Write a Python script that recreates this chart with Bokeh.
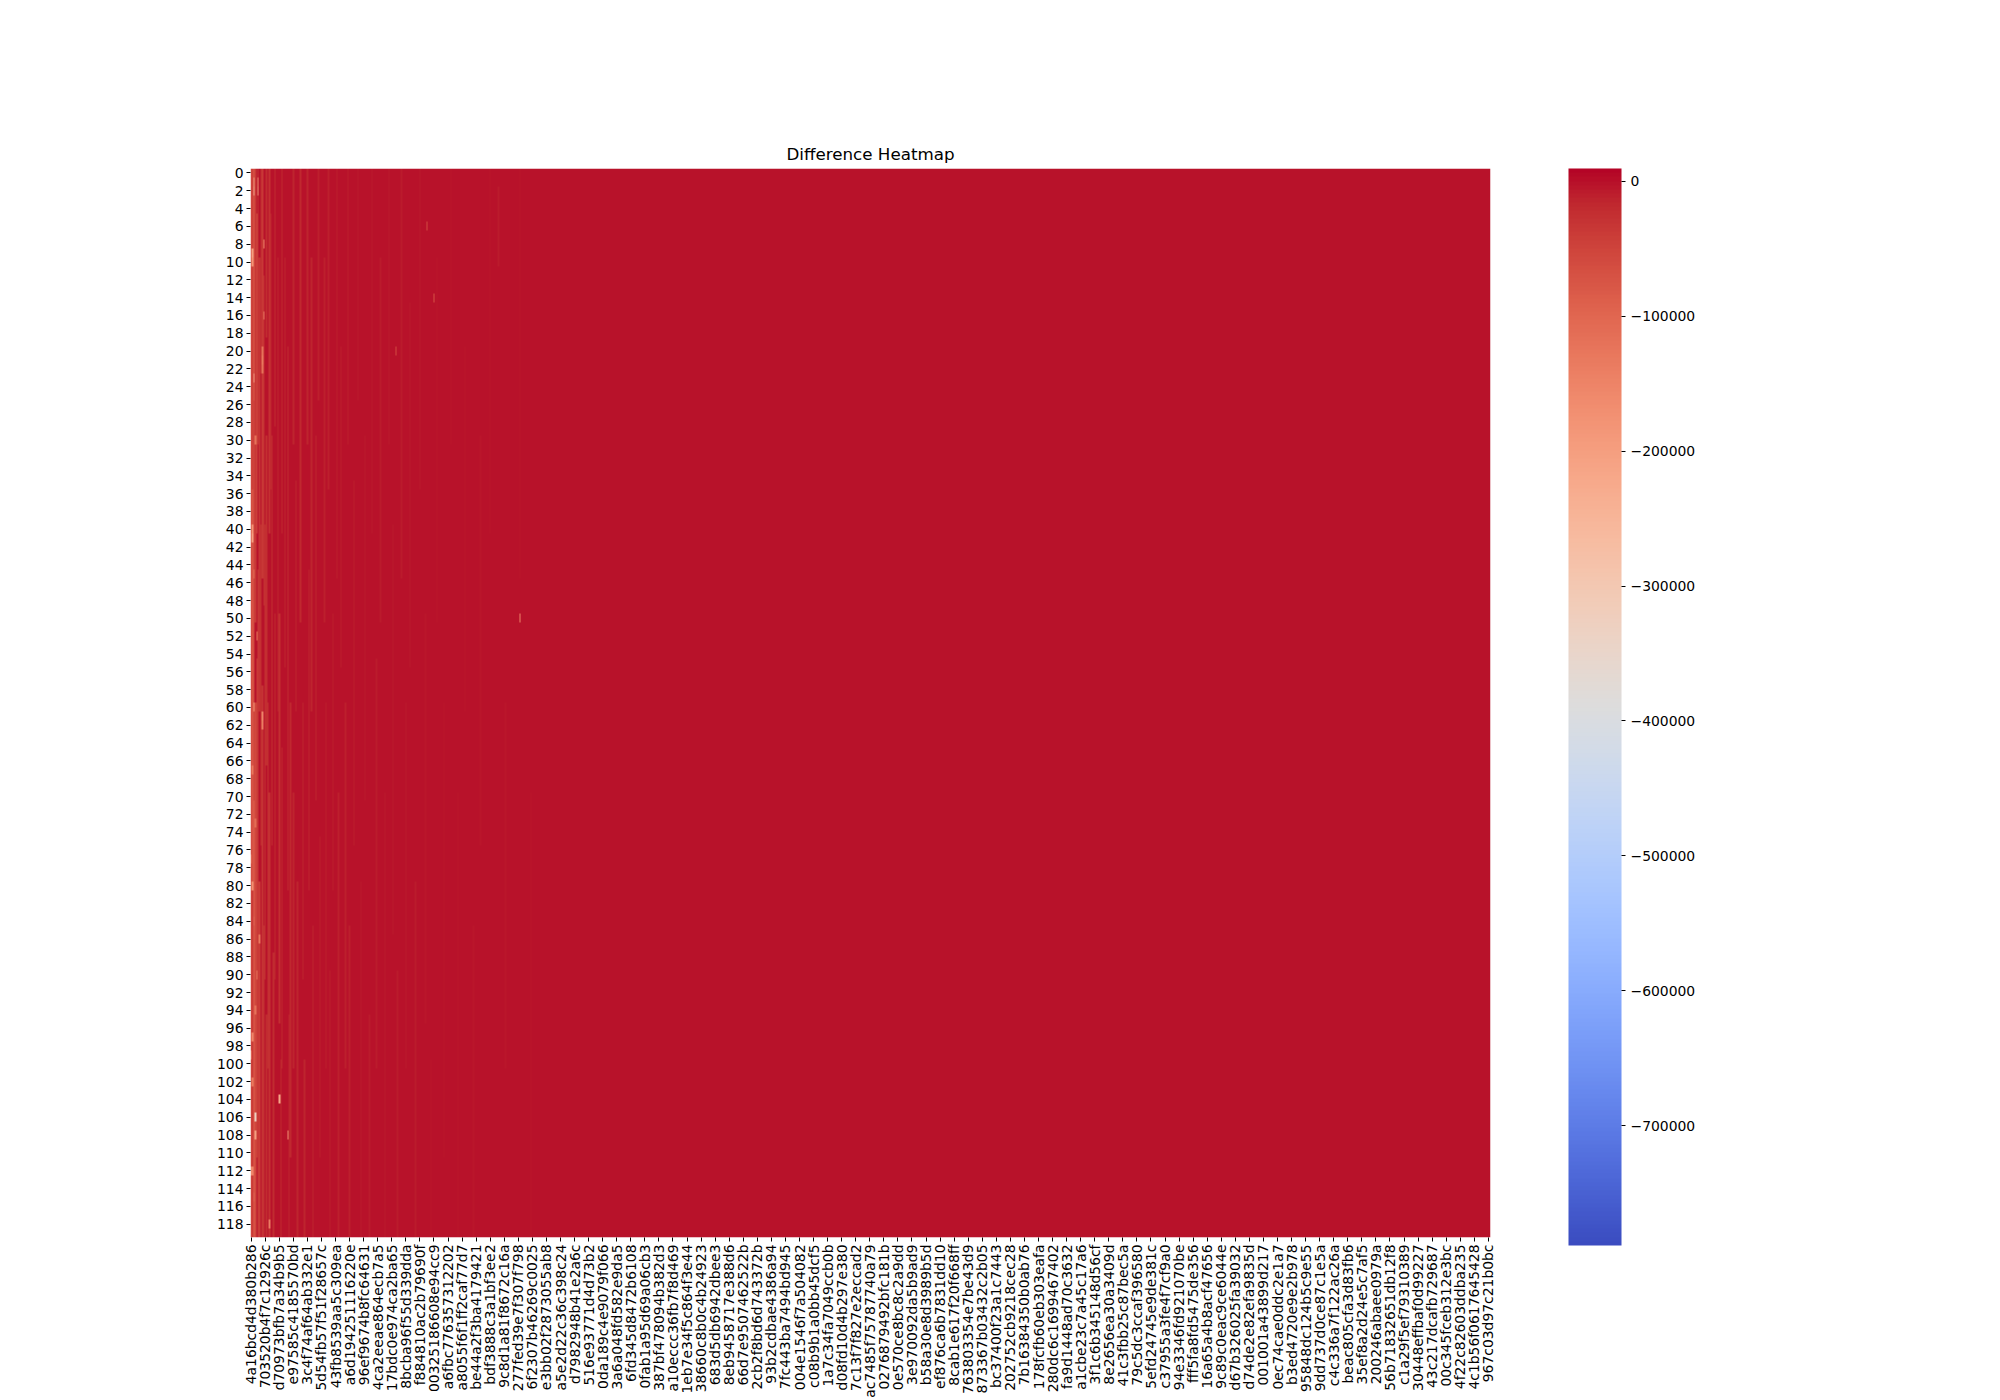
import numpy as np
from bokeh.plotting import figure
from bokeh.models import LinearColorMapper, ColorBar, FixedTicker, Range1d, AllLabels
from bokeh.embed import file_html
from bokeh.resources import INLINE

# ---------------- data ----------------
n_rows = 120
n_cols = 882
x_tick_step = 10          # every 10th column carries a visible label
y_tick_step = 2

x_tick_labels = [
    "4a16bcd4d380b286", "703520b4f7c12926c", "d70973bfb7a34b9b5", "e97585c4185570bd",
    "3c4f74af64ab332e1", "5d54fb57f51f28657c", "43fb8539aa5c309ea", "a6d194251116220e",
    "96ef9674b8fc64631", "4ca2eeae864ecb7a5", "17bdc0e974ca2ba65", "8bcba96f55d339dda",
    "f884810ac2b79690f", "00325186608e94cc9", "a6fbc776357312202", "a8055f6f1ff2caf77d7",
    "be44a2f3ba4179421", "bdf3888c3a1bf3ee2", "9c8d1a81f8672c16a", "277fed39e7f307f798",
    "6f2307b46269c0025", "e3bb02f2873055ab8", "a5e2d22c36c398c24", "d7982948b41e2a6c",
    "516e93771d4d73b2", "0da189c4e9079f066", "3a6a048fd582e9da5", "6fd345d8472b6108",
    "0fab1a95d69a06cb3", "387bf478094b382d3", "a10eccc36fb7f8d469", "1eb7e34f5c864f3e44",
    "38660c8b0c4b24923", "683d5db6942dbee3", "8eb9458717e388d6", "66d7e9507462522b",
    "2cb2f8bd6d743372b", "93b2cdbae4386a94", "7fc443ba7494bd945", "004e1546f7a504082",
    "c08b9b1a0bb45dcf5", "1a7c34fa7049ccb0b", "d08fd10d4b297e380", "7c13f7f827e2eccad2",
    "ac7485f75787740a79", "0276879492bfc181b", "0e570ce8bc8c2a9dd", "3e970092da5b9ad9",
    "b58a30e8d3989b5d", "ef876ca6b7831dd10", "8cab1e617f20f668ff", "763803354e7be43d9",
    "873367b03432c2b05", "bc37400f23a1c7443", "202752cb9218cec28", "7b16384350b0ab76",
    "178fcfb60eb303eafa", "280dc6c1699467402", "fa9d1448ad70c3632", "a1cbe23c7a45c17a6",
    "3f1c6b345148d56cf", "8e2656ea30a3409d", "41c3fbb25c87bec5a", "79c5dc3ccaf396580",
    "5efd24745e9de381c", "c37955a3fe4f7cf9a0", "94e3346fd921070be", "fff5fa8fd5475de356",
    "16a65a4b8acf47656", "9c89c0eac9ce6044e", "d67b326025fa39032", "d74de2e82efa9835d",
    "001001a43899d217", "0ec74cae0ddc2e1a7", "b3ed4720e9e2b978", "95848dc124b5c9e55",
    "9dd737d0ce87c1e5a", "c4c336a7f122ac26a", "beac805cfa3d83fb6", "35ef8a2d24e5c7af5",
    "200246abaee0979a", "56b71832651db12f8", "c1a29f5ef79310389", "30448effbaf0d99227",
    "43c217dcafb729687", "00c345fceb312e3bc", "4f22c82603ddba235", "4c1b56f0617645428",
    "967c03d97c21b0bc",
]

base_value = 0
vmin = -788700
vmax = 9400
cbar_ticks = [0, -100000, -200000, -300000, -400000, -500000, -600000, -700000]

# lighter vertical streak segments: (column, first row, last row, value)
col_streaks = [
    (0, 0, 119, -60000), (1, 0, 35, -45000), (1, 36, 80, -70000), (1, 81, 119, -40000),
    (2, 0, 25, -80000), (2, 26, 70, -50000), (2, 71, 119, -85000), (3, 0, 50, -35000),
    (3, 60, 119, -55000), (4, 5, 40, -50000), (4, 55, 110, -40000), (5, 0, 30, -30000),
    (5, 45, 119, -35000), (6, 10, 60, -30000), (6, 80, 119, -40000), (7, 0, 22, -20000),
    (7, 40, 75, -22000), (8, 0, 45, -35000), (8, 58, 119, -30000), (9, 12, 48, -25000),
    (9, 85, 119, -28000), (10, 40, 90, -28000), (11, 0, 18, -20000), (11, 30, 66, -22000),
    (11, 95, 119, -20000), (12, 60, 100, -25000), (13, 0, 40, -28000), (13, 70, 119, -25000),
    (14, 5, 35, -15000), (15, 30, 75, -22000), (16, 88, 119, -20000), (17, 0, 28, -20000),
    (17, 50, 90, -18000), (19, 10, 60, -15000), (20, 50, 95, -22000), (21, 100, 119, -18000),
    (22, 0, 40, -18000), (22, 65, 100, -16000), (24, 10, 55, -15000), (26, 20, 80, -20000),
    (27, 95, 119, -15000), (28, 60, 110, -16000), (30, 0, 30, -15000), (30, 70, 100, -14000),
    (32, 35, 60, -14000), (33, 80, 119, -15000), (35, 0, 50, -16000), (37, 60, 90, -14000),
    (38, 100, 119, -15000), (40, 0, 30, -14000), (41, 45, 80, -13000), (43, 10, 60, -13000),
    (44, 85, 119, -14000), (46, 30, 70, -13000), (48, 0, 25, -12000), (49, 75, 110, -12000),
    (52, 10, 50, -12000), (53, 60, 100, -11000), (55, 0, 35, -12000), (56, 90, 119, -12000),
    (58, 50, 80, -11000), (61, 0, 45, -11000), (62, 70, 119, -11000), (64, 20, 55, -10000),
    (67, 60, 100, -10000), (69, 0, 30, -10000), (70, 85, 119, -10000), (73, 35, 75, -10000),
    (76, 0, 25, -9000), (78, 80, 119, -9000), (81, 30, 70, -9000), (84, 95, 119, -9000),
    (86, 0, 40, -9000), (89, 55, 100, -8000), (92, 10, 50, -8000), (95, 70, 119, -8000),
    (98, 0, 30, -8000), (101, 40, 85, -8000), (104, 90, 119, -8000), (107, 0, 45, -7000),
    (110, 60, 100, -7000), (113, 15, 55, -7000), (117, 80, 119, -7000), (120, 0, 35, -7000),
    (124, 50, 95, -6000), (128, 100, 119, -6000), (132, 10, 50, -6000), (137, 60, 110, -6000),
    (142, 0, 30, -6000), (147, 70, 119, -5000), (152, 20, 60, -5000), (158, 85, 119, -5000),
    (163, 30, 75, -5000), (170, 0, 40, -5000), (176, 2, 10, -9000), (181, 60, 100, -4000),
    (191, 0, 45, -4000), (199, 70, 119, -4000), (210, 20, 60, -3000), (225, 80, 119, -3000),
]

# isolated light cells: (row, column, value)
spots = [
    (1, 2, -200000), (2, 2, -230000), (1, 5, -160000), (2, 5, -180000), (8, 9, -150000),
    (9, 1, -200000), (10, 1, -180000), (6, 125, -60000), (14, 130, -70000), (16, 9, -140000),
    (20, 8, -120000), (21, 8, -130000), (22, 8, -120000), (23, 2, -200000), (20, 103, -60000),
    (40, 1, -180000), (41, 1, -200000), (60, 2, -180000), (61, 8, -150000), (62, 8, -140000),
    (80, 1, -170000), (50, 191, -150000), (104, 20, -220000), (106, 3, -330000),
    (108, 3, -200000), (108, 26, -170000), (112, 0, -160000), (112, 1, -150000),
    (118, 13, -140000), (90, 4, -120000), (97, 1, -150000), (99, 0, -160000), (86, 6, -130000),
    (30, 3, -120000), (45, 2, -110000), (52, 4, -120000), (67, 1, -130000), (73, 3, -110000),
    (77, 0, -120000), (84, 2, -110000), (94, 3, -120000), (102, 1, -130000), (115, 2, -110000),
]

# matplotlib "coolwarm" control points (position, r, g, b)
coolwarm_pts = [
    (0.0, 0.2298057, 0.298717966, 0.753683153), (0.03125, 0.26623388, 0.353094838, 0.801466763),
    (0.0625, 0.30386891, 0.406535296, 0.84495867), (0.09375, 0.342804478, 0.458757618, 0.883725899),
    (0.125, 0.38301334, 0.50941904, 0.917387822), (0.15625, 0.424369608, 0.558148092, 0.945619588),
    (0.1875, 0.46666708, 0.604562568, 0.968154911), (0.21875, 0.509635204, 0.648280772, 0.98478814),
    (0.25, 0.552953156, 0.688929332, 0.995375608), (0.28125, 0.596262162, 0.726149107, 0.999836203),
    (0.3125, 0.639176211, 0.759599947, 0.998151185), (0.34375, 0.681291281, 0.788964712, 0.990363227),
    (0.375, 0.722193294, 0.813952739, 0.976574709), (0.40625, 0.761464949, 0.834302879, 0.956945269),
    (0.4375, 0.798691636, 0.849786142, 0.931688648), (0.46875, 0.833466556, 0.860207984, 0.901068838),
    (0.5, 0.865395197, 0.86541021, 0.865395561), (0.53125, 0.897787179, 0.848937047, 0.820880546),
    (0.5625, 0.924127593, 0.827384882, 0.774508472), (0.59375, 0.944468518, 0.800927443, 0.726736146),
    (0.625, 0.958852946, 0.769767752, 0.678007945), (0.65625, 0.96732803, 0.734132809, 0.628751763),
    (0.6875, 0.969954137, 0.694266682, 0.579375448), (0.71875, 0.966811177, 0.650421156, 0.530263762),
    (0.75, 0.958003065, 0.602842431, 0.481775914), (0.78125, 0.943660866, 0.551750968, 0.434243684),
    (0.8125, 0.923944917, 0.49730856, 0.387970225), (0.84375, 0.89904617, 0.439559467, 0.343229596),
    (0.875, 0.869186849, 0.378313092, 0.300267182), (0.90625, 0.834620542, 0.312874446, 0.259301199),
    (0.9375, 0.795631745, 0.24128379, 0.220525627), (0.96875, 0.752534934, 0.157246067, 0.184115123),
    (1.0, 0.705673158, 0.01555616, 0.150232812),
]

# ---------------- build ----------------
pos = np.array([p[0] for p in coolwarm_pts])
rgb = np.array([p[1:] for p in coolwarm_pts])
palette = []
for t in np.linspace(0, 1, 256):
    r = np.interp(t, pos, rgb[:, 0]); g = np.interp(t, pos, rgb[:, 1]); b = np.interp(t, pos, rgb[:, 2])
    palette.append("#%02x%02x%02x" % (int(round(r * 255)), int(round(g * 255)), int(round(b * 255))))

z = np.full((n_rows, n_cols), float(base_value))
for c, r0, r1, v in col_streaks:
    z[r0:r1 + 1, c] = v
for r, c, v in spots:
    z[r, c] = v

mapper = LinearColorMapper(palette=palette, low=vmin, high=vmax)

FONT = "DejaVu Sans"
p = figure(width=2000, height=1400, output_backend="svg", toolbar_location=None,
           x_range=Range1d(0, n_cols), y_range=Range1d(0, n_rows),
           title="Difference Heatmap",
           min_border_left=250, min_border_right=510, min_border_top=168, min_border_bottom=155)
p.image(image=[z[::-1]], x=0, y=0, dw=n_cols, dh=n_rows, color_mapper=mapper)

p.title.align = "center"
p.title.text_font = FONT
p.title.text_font_style = "normal"
p.title.text_font_size = "16.7px"
p.title.text_color = "black"

p.grid.visible = False
p.outline_line_color = None
p.background_fill_color = "white"
p.border_fill_color = "white"

xt = [i * x_tick_step + 0.5 for i in range(len(x_tick_labels))]
p.xaxis.ticker = FixedTicker(ticks=xt)
p.xaxis.major_label_overrides = {t: lab for t, lab in zip(xt, x_tick_labels)}
p.xaxis.major_label_orientation = np.pi / 2

y_rows = list(range(0, n_rows, y_tick_step))
yt = [n_rows - r - 0.5 for r in y_rows]
p.yaxis.ticker = FixedTicker(ticks=yt)
p.yaxis.major_label_overrides = {t: str(r) for t, r in zip(yt, y_rows)}

for ax in (p.xaxis[0], p.yaxis[0]):
    ax.axis_line_color = None
    ax.minor_tick_line_color = None
    ax.major_tick_in = 0
    ax.major_tick_out = 4
    ax.major_tick_line_color = "black"
    ax.major_label_text_font = FONT
    ax.major_label_text_font_size = "13.9px"
    ax.major_label_text_color = "black"
    ax.major_label_standoff = 3

cb = ColorBar(color_mapper=mapper, ticker=FixedTicker(ticks=cbar_ticks),
              major_label_overrides={t: ("0" if t == 0 else "\u2212" + str(-t)) for t in cbar_ticks},
              major_label_policy=AllLabels(),
              width=53, height=1077, padding=0, location=(78, -8),
              bar_line_color=None, major_tick_line_color="black", major_tick_in=0, major_tick_out=4,
              minor_tick_line_color=None,
              major_label_text_font=FONT, major_label_text_font_size="13.9px",
              major_label_text_color="black", label_standoff=5,
              background_fill_color=None, border_line_color=None)
p.add_layout(cb, "right")

open("out.html", "w").write(file_html(p, INLINE))
